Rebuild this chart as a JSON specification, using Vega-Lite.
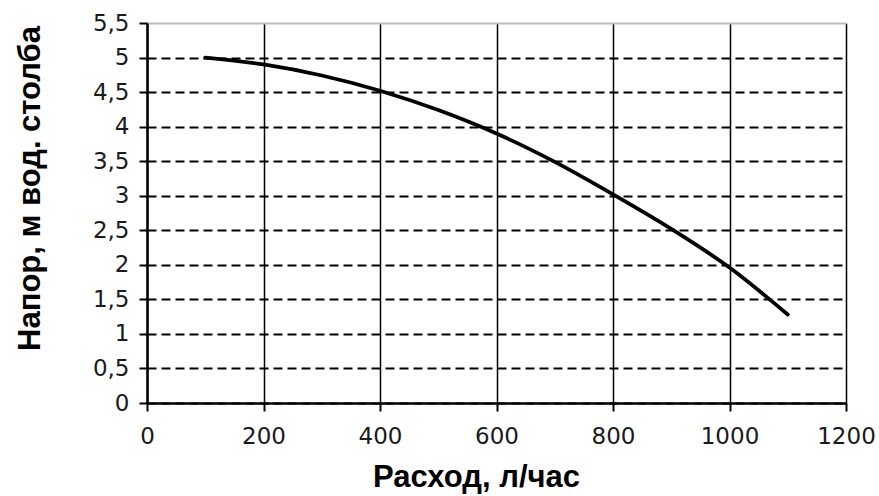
{
  "$schema": "https://vega.github.io/schema/vega-lite/v6.json",
  "width": 699,
  "height": 380,
  "autosize": "none",
  "padding": {"left": 147, "top": 23, "right": 33, "bottom": 93},
  "background": "white",
  "config": {
    "view": {"stroke": null},
    "axis": {
      "labelFont": "DejaVu Sans",
      "labelFontSize": 23,
      "labelColor": "#1a1a1a",
      "labelFlush": false,
      "labelOverlap": false,
      "titleFont": "Liberation Sans",
      "titleFontWeight": "bold",
      "titleFontSize": 31,
      "titleColor": "#000000",
      "domainColor": "#000000",
      "domainWidth": 2.5,
      "tickColor": "#000000",
      "tickWidth": 2,
      "tickSize": 8,
      "grid": true
    }
  },
  "data": {
    "values": [
      {"q": 100, "h": 5.0},
      {"q": 200, "h": 4.9},
      {"q": 300, "h": 4.74},
      {"q": 400, "h": 4.52},
      {"q": 500, "h": 4.24},
      {"q": 600, "h": 3.9},
      {"q": 700, "h": 3.49},
      {"q": 800, "h": 3.02},
      {"q": 900, "h": 2.52},
      {"q": 1000, "h": 1.96},
      {"q": 1100, "h": 1.28}
    ]
  },
  "mark": {"type": "line", "color": "#000000", "strokeWidth": 3.8, "interpolate": "monotone", "strokeCap": "round"},
  "encoding": {
    "x": {
      "field": "q",
      "type": "quantitative",
      "scale": {"domain": [0, 1200], "nice": false},
      "axis": {
        "title": "Расход, л/час",
        "values": [0, 200, 400, 600, 800, 1000, 1200],
        "format": "d",
        "gridColor": "#000000",
        "gridWidth": 1.5,
        "gridOpacity": 1,
        "labelPadding": 14,
        "titleX": 329,
        "titleY": 74,
        "titleBaseline": "middle",
        "titleAnchor": "middle"
      }
    },
    "y": {
      "field": "h",
      "type": "quantitative",
      "scale": {"domain": [0, 5.5], "nice": false},
      "axis": {
        "title": "Напор, м вод. столба",
        "values": [0, 0.5, 1, 1.5, 2, 2.5, 3, 3.5, 4, 4.5, 5, 5.5],
        "format": ",.1~f",
        "labelExpr": "replace(datum.label, '.', ',')",
        "gridColor": {"condition": {"test": "datum.value == 5.5", "value": "#bbbbbb"}, "value": "#000000"},
        "gridDash": {"condition": {"test": "datum.value == 5.5", "value": []}, "value": [9, 5]},
        "gridWidth": 2,
        "gridOpacity": 1,
        "labelPadding": 10,
        "titleX": -117,
        "titleY": 165,
        "titleAngle": -90,
        "titleBaseline": "middle",
        "titleAlign": "center"
      }
    }
  }
}
